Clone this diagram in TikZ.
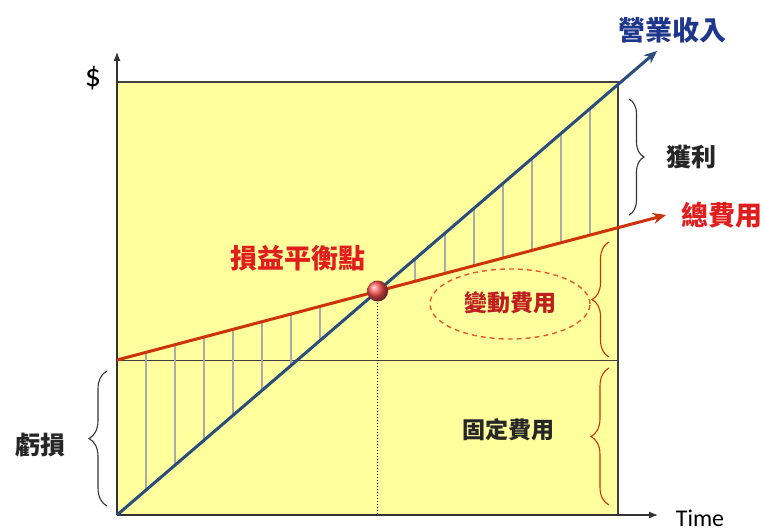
\documentclass[tikz,border=0pt]{standalone}
\usepackage{fontspec}
\setmainfont{Carlito}
\newfontfamily\cjk{Noto Sans CJK TC}
\usetikzlibrary{arrows.meta,decorations.pathreplacing,shapes.geometric}
\definecolor{boxyellow}{RGB}{255,255,158}
\definecolor{revblue}{RGB}{41,78,125}
\definecolor{costred}{RGB}{205,50,10}
\definecolor{labred}{RGB}{225,30,30}
\definecolor{navy}{RGB}{30,55,140}
\definecolor{darkred}{RGB}{190,30,30}
\definecolor{ellred}{RGB}{230,90,40}
\tikzset{
  cjklabel/.style={font=\cjk\bfseries\fontsize{#1}{#1}\selectfont, inner sep=0pt},
  hatch/.style={draw={rgb,255:red,170;green,170;blue,170}, line width=1.1pt},
  bracestyle/.style={decorate, decoration={brace, amplitude=#1}, line width=1.1pt},
}
\begin{document}
\begin{tikzpicture}[x=1pt,y=-1pt]
\useasboundingbox (0,0) rectangle (765,532);
% box
\fill[boxyellow] (117,82) rectangle (618,515);
\draw[line width=1.2pt,black!75] (117,82) -- (618,82) -- (618,515);
\draw[line width=1pt,black!75] (117,360) -- (618,360);
% axes
\coordinate (O) at (117,515);
\coordinate (ytip) at (117,52);
\coordinate (xtip) at (658,515);
\draw[line width=1.2pt,black!80,-{Latex[length=9pt,width=7pt]}] (O) -- (ytip);
\draw[line width=1.2pt,black!80,-{Latex[length=9pt,width=7pt]}] (O) -- (xtip);
\node[inner sep=0pt] (dollar) at (93,78) {\fontsize{32pt}{34pt}\selectfont \$};
\node[inner sep=0pt] (time) at (700,518) {\fontsize{24pt}{26pt}\selectfont Time};
% hatch lines
\foreach \x in {146,175,204,233,262,291,320,415,445,474,503,532,561,590}
  \draw[hatch] (\x,{360-0.2646*(\x-117)}) -- (\x,{515-0.8593*(\x-117)});
% dotted
\coordinate (bepfoot) at (377.6,515);
\coordinate (bepc) at (377.6,291);
\draw[dotted, line width=1pt] (bepc) -- (bepfoot);
% lines
\coordinate (rev0) at (117,515);
\coordinate (rev1) at (657,51);
\coordinate (cost0) at (117,360);
\coordinate (cost1) at (666,215);
\draw[revblue, line width=3pt, -{Stealth[length=13pt,width=11pt]}] (rev0) -- (rev1);
\draw[costred, line width=3pt, -{Stealth[length=13pt,width=11pt]}] (cost0) -- (cost1);
% ball
\node[circle, minimum size=21pt, inner sep=0pt, ball color={rgb,255:red,250;green,80;blue,80}] (bep) at (bepc) {};
% ellipse
\node[ellipse, draw=ellred, line width=1.4pt, minimum width=160pt, minimum height=70pt, dash pattern=on 5pt off 4pt] (varell) at (510,304) {};
\node[cjklabel=23, text=darkred] (varlab) at (510,303) {變動費用};
% labels
\node[cjklabel=27, text=navy] (revlab) at (672,30) {營業收入};
\node[cjklabel=27, text=labred] (costlab) at (722,215) {總費用};
\node[cjklabel=27, text=labred] (beplab) at (298,258) {損益平衡點};
\node[cjklabel=25, text=black!85] (profit) at (691,157) {獲利};
\node[cjklabel=23, text=black!85] (fixed) at (508,430) {固定費用};
\node[cjklabel=25, text=black!85] (loss) at (41,445) {虧損};
% braces
\coordinate (pb1) at (629,99);
\coordinate (pb2) at (629,215);
\draw[bracestyle=15pt, black!80] (pb1) -- (pb2);
\coordinate (vb1) at (609,242);
\coordinate (vb2) at (609,357);
\draw[bracestyle=17pt, costred] (vb2) -- (vb1);
\coordinate (fb1) at (609,368);
\coordinate (fb2) at (609,505);
\draw[bracestyle=18pt, costred] (fb2) -- (fb1);
\coordinate (lb1) at (107,371);
\coordinate (lb2) at (107,506);
\draw[bracestyle=18pt, black!80] (lb2) -- (lb1);
\end{tikzpicture}
\end{document}
